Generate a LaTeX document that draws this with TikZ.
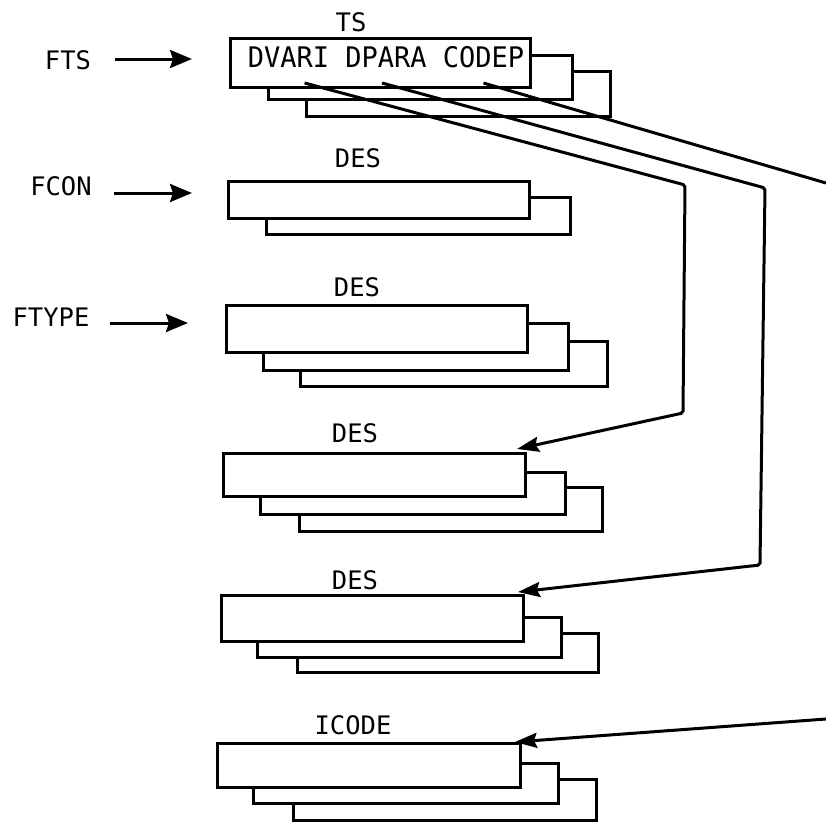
\documentclass[tikz,border=0pt]{standalone}
\usepackage{fontspec}
\setmonofont{DejaVu Sans Mono}
\usetikzlibrary{arrows.meta,calc}
\tikzset{
  lbl/.style={font=\ttfamily\fontsize{25.5}{25.5}\selectfont, inner sep=0pt, anchor=center},
  inlbl/.style={font=\ttfamily\fontsize{27}{27}\selectfont, inner sep=0pt, anchor=center, yscale=1.05},
  backbox/.style={draw, line width=3pt, fill=white},
  frontbox/.style={draw, line width=3pt, fill=white, inner sep=0pt, outer sep=0pt},
  feed/.style={line width=3pt, -{Stealth[length=22pt,width=18pt,inset=3pt]}},
  conn/.style={line width=3pt, rounded corners=2pt, -{Stealth[length=22pt,width=15pt,inset=3pt]}},
  wire/.style={line width=3pt}
}
\begin{document}
\begin{tikzpicture}[x=1pt,y=-1pt]
\useasboundingbox (0,0) rectangle (826,827);

% ---------- TS group ----------
\draw[backbox] (306,71) rectangle (610,116);
\draw[backbox] (268,55) rectangle (572,99);
\node[frontbox, minimum width=300pt, minimum height=49pt] (ts) at (380,62.5) {};
\node[lbl] (tslbl) at (351,22) {TS};
\node[inlbl, transform shape] (dvari) at (288.6,57) {DVARI};
\node[inlbl, transform shape] (dpara) at (386,57) {DPARA};
\node[inlbl, transform shape] (codep) at (483.5,57) {CODEP};

% ---------- FCON group ----------
\draw[backbox] (266,197) rectangle (570,234);
\node[frontbox, minimum width=301pt, minimum height=37pt] (fconbox) at (378.5,199.5) {};
\node[lbl] (des1) at (358,158) {DES};

% ---------- FTYPE group ----------
\draw[backbox] (300,341) rectangle (607,386);
\draw[backbox] (263,323) rectangle (568,370);
\node[frontbox, minimum width=301pt, minimum height=47pt] (ftypebox) at (376.5,328.5) {};
\node[lbl] (des2) at (357,287) {DES};

% ---------- DES 4 ----------
\draw[backbox] (299,487) rectangle (602,531);
\draw[backbox] (260,472) rectangle (565,514);
\node[frontbox, minimum width=302pt, minimum height=43pt] (des4box) at (374,474.5) {};
\node[lbl] (des3) at (355,433) {DES};

% ---------- DES 5 ----------
\draw[backbox] (297,633) rectangle (598,672);
\draw[backbox] (257,617) rectangle (561,657);
\node[frontbox, minimum width=302pt, minimum height=46pt] (des5box) at (372,618) {};
\node[lbl] (des4) at (355,580) {DES};

% ---------- ICODE ----------
\draw[backbox] (293,779) rectangle (596,820);
\draw[backbox] (253,763) rectangle (558,803);
\node[frontbox, minimum width=303pt, minimum height=44pt] (icodebox) at (368.5,765) {};
\node[lbl] (icode) at (353,725) {ICODE};

% ---------- left labels ----------
\node[lbl] (fts) at (68,60) {FTS};
\node[lbl] (fcon) at (61,186) {FCON};
\node[lbl] (ftype) at (51,317) {FTYPE};

\draw[feed] ($(fts.east)+(24,-1)$) -- ($(ts.west)+(-38,-3.5)$);
\draw[feed] ($(fcon.east)+(22,7)$) -- ($(fconbox.west)+(-36,-6.5)$);
\draw[feed] ($(ftype.east)+(20,6)$) -- ($(ftypebox.west)+(-38,-5.5)$);

% ---------- connectors ----------
\coordinate (b1) at (685,185);
\coordinate (b2) at (683,413);
\coordinate (t1) at (517,449);
\coordinate (c1) at (765,188);
\coordinate (c2) at (760,565);
\coordinate (t2) at (518,592);
\coordinate (e1) at (826,183);
\coordinate (e2) at (826,719);
\coordinate (t3) at (515,742);

\draw[conn] ($(dvari.center)+(16,26)$) -- (b1) -- (b2) -- (t1);
\draw[conn] ($(dpara.center)+(-4,26)$) -- (c1) -- (c2) -- (t2);
\draw[wire] ($(codep.center)+(0,26)$) -- (e1);
\draw[conn] (e2) -- (t3);
\end{tikzpicture}
\end{document}
